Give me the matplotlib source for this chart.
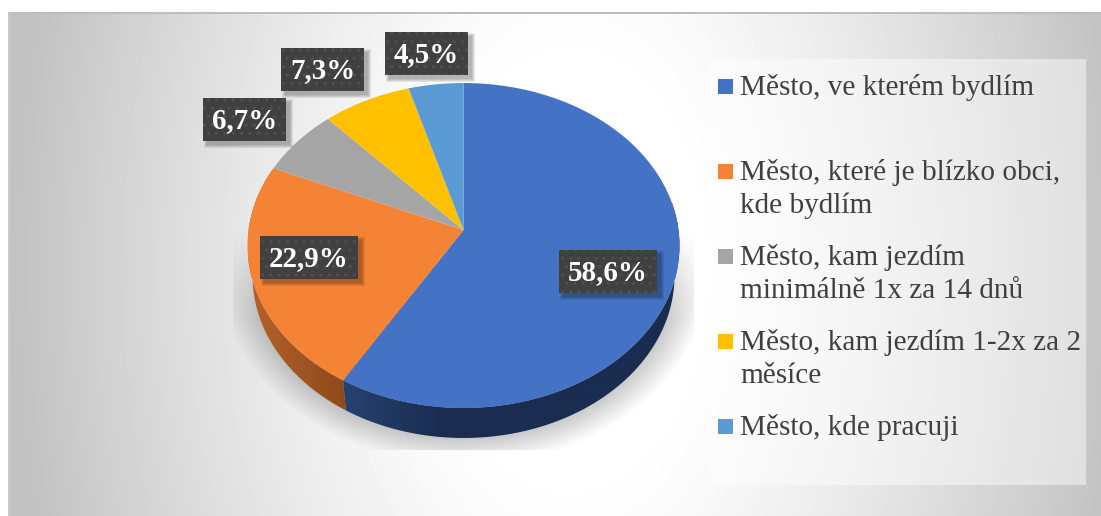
# coding: utf-8
"""Koláčový graf: města a jejich podíl (pseudo 3D)"""
import numpy as np
import matplotlib
matplotlib.use("Agg")
import matplotlib.pyplot as plt
import matplotlib.transforms as mtransforms
from matplotlib.colors import to_rgb
from matplotlib.patches import Polygon, Rectangle

plt.rcParams["font.family"] = ["Liberation Serif", "DejaVu Serif"]

categories = ["Město, ve kterém bydlím",
              "Město, které je blízko obci,\nkde bydlím",
              "Město, kam jezdím\nminimálně 1x za 14 dnů",
              "Město, kam jezdím 1-2x za 2\nměsíce",
              "Město, kde pracuji"]
values = [58.6, 22.9, 6.7, 7.3, 4.5]
value_labels = ["58,6%", "22,9%", "6,7%", "7,3%", "4,5%"]

colors = ["#4472c4", "#f58335", "#a5a5a5", "#ffc000", "#5b9bd5"]
# left and right colour of the visible side wall
wall_colors = [("#26426f", "#1a2c50"), ("#b5622a", "#8e491c")]
# centre of each label box, pixels
label_centers = [(608, 271.5), (309, 257.5), (244.5, 119.5), (322.5, 69.5),
                 (426.5, 53.5)]
label_widths = [98, 98, 83, 83, 83]

# tilted disc: apex and perspective, pixels
APEX_X, APEX_Y = 463.5, 230
PERSP, SCALE_Y, SCALE_X = 0.0954, 161, 215
DEPTH = 30
BOTTOM_SHRINK = 0.977


def project(x, y):
    w = 1 + PERSP * y
    return APEX_X + SCALE_X * x / w, APEX_Y - SCALE_Y * y / w


class TiltedDisc(mtransforms.Transform):
    input_dims = output_dims = 2

    def transform_non_affine(self, values):
        px, py = project(values[:, 0], values[:, 1])
        return np.column_stack((px, py))


fig = plt.figure(figsize=(11.01, 5.16), dpi=100)
ax = fig.add_axes([0, 0, 1, 1])

# background
yy, xx = np.mgrid[12:516, 8:1101]
dist = np.hypot((xx - 570) / 560, (yy - 270) / 900)
gray = 255 - 62 * np.clip((dist - 0.22) / 0.78, 0, 1) ** 1.25
ax.imshow(gray, cmap="gray", vmin=0, vmax=255, extent=[8, 1101, 516, 12],
          aspect="auto", zorder=0)
ax.add_patch(Rectangle((8, 12), 1093, 1.5, fc="#bdbdbd", lw=0, zorder=0.5))
ax.add_patch(Rectangle((8, 12), 1.5, 504, fc="#c8c8c8", lw=0, zorder=0.5))

# soft shadow under the pie, cut by its rectangle
yy, xx = np.mgrid[230:450, 233:694]
d = (np.hypot((xx - 463.5) / 220, (yy - 268) / 176) - 1) * 176
shadow = np.zeros(xx.shape + (4,))
shadow[..., :3] = 0.35
shadow[..., 3] = 0.5 * np.clip(0.5 - d / 42, 0, 1) * np.clip((yy - 230) / 90, 0, 1)
ax.imshow(shadow, extent=[233, 694, 450, 230], aspect="auto", zorder=1)

# side walls
edges = 90 - np.cumsum([0] + values) * 3.6
for i, (left, right) in enumerate(wall_colors):
    if i == 0:
        t = np.radians(np.linspace(edges[1], 10, 200))
    else:
        t = np.radians(np.linspace(edges[2], edges[1], 100))
    px, py = project(np.cos(t), np.sin(t))
    low_x = APEX_X + (px - APEX_X) * BOTTOM_SHRINK
    outline = np.column_stack((np.r_[px, low_x[::-1]], np.r_[py, py[::-1] + DEPTH]))
    x0, x1 = outline[:, 0].min(), outline[:, 0].max()
    if i == 0:
        ramp = np.clip((np.linspace(x0, x1, 256) - x0) / 100, 0, 1)[None, :, None]
    else:
        ramp = np.linspace(0, 1, 256)[None, :, None]
    img = (1 - ramp) * np.array(to_rgb(left)) + ramp * np.array(to_rgb(right))
    im = ax.imshow(img, extent=[x0, x1, outline[:, 1].max(), outline[:, 1].min()],
                   aspect="auto", zorder=2)
    im.set_clip_path(Polygon(outline, transform=ax.transData))

# top of the pie
wedges, _ = ax.pie(values, colors=colors, startangle=90, counterclock=False,
                   wedgeprops={"linewidth": 0})
disc = TiltedDisc() + ax.transData
for wedge in wedges:
    wedge.set_transform(disc)
    wedge.set_zorder(3)

# value labels
for text, (cx, cy), w in zip(value_labels, label_centers, label_widths):
    x0, y0 = cx - w / 2, cy - 21.5
    for grow in (0, 2, 4, 6):
        ax.add_patch(Rectangle((x0 + 4 - grow / 2, y0 + 4 - grow / 2), w + grow,
                               43 + grow, fc="black", alpha=0.08, lw=0, zorder=4))
    ax.add_patch(Rectangle((x0, y0), w, 43, fc="#404040", ec="#505050", lw=0,
                           hatch="..", zorder=5))
    ax.text(cx, cy + 1, text, color="white", fontsize=20.9, fontweight="bold",
            ha="center", va="center", zorder=6)

# legend
ax.add_patch(Rectangle((709, 59), 377, 426, fc="white", alpha=0.45, lw=0, zorder=1))
for i, (label, color) in enumerate(zip(categories, colors)):
    ax.add_patch(Rectangle((718, 79 + 85 * i), 15, 15, fc=color, lw=0, zorder=3))
    for j, line in enumerate(label.split("\n")):
        ax.text(740, 95 + 85 * i + 33 * j, line, color="#404040", fontsize=21.1,
                ha="left", va="baseline", zorder=3)

ax.set_aspect("auto")
ax.set_xlim(0, 1101)
ax.set_ylim(516, 0)
ax.axis("off")
fig.savefig("out.png", dpi=100, facecolor="white")
